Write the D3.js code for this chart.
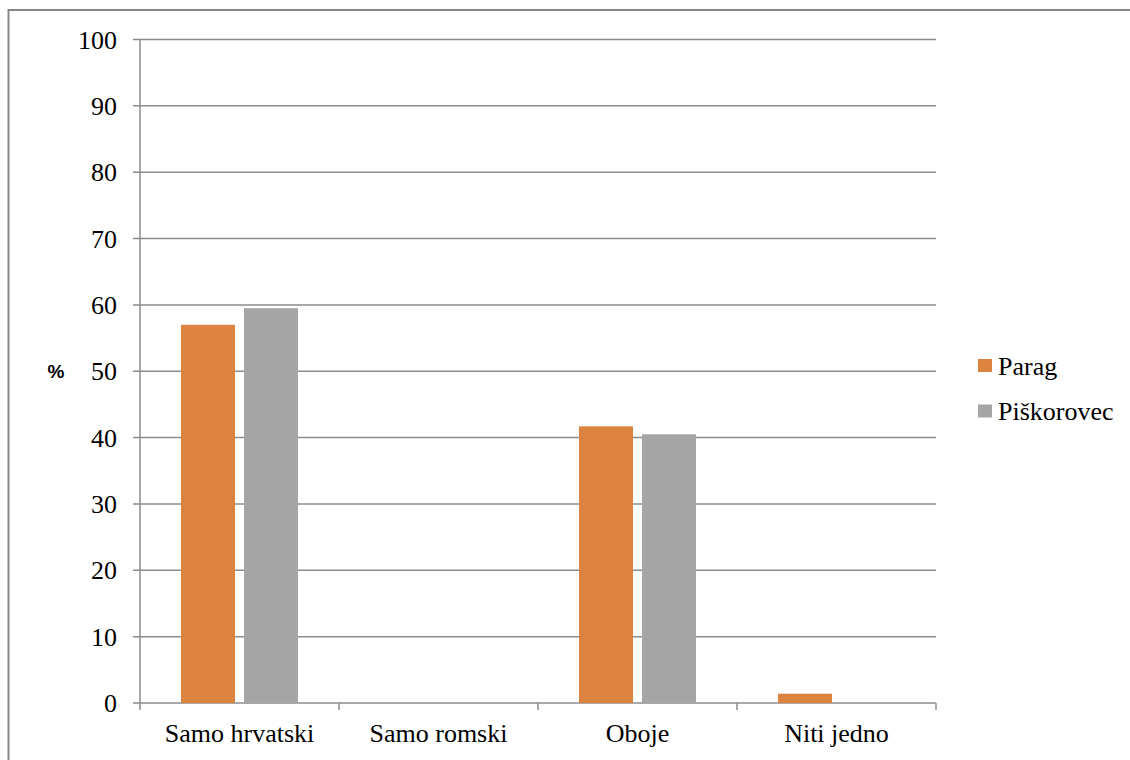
<!DOCTYPE html>
<html><head><meta charset="utf-8">
<script src="https://cdn.jsdelivr.net/npm/d3@7"></script>
<style>body{margin:0;background:#fff}svg{display:block}</style>
</head><body>
<script>
const categories = ["Samo hrvatski", "Samo romski", "Oboje", "Niti jedno"];
const seriesNames = ["Parag", "Piškorovec"];
const parag = [57.0, 0, 41.7, 1.4];
const piskorovec = [59.5, 0, 40.5, 0];
const yTicks = [0, 10, 20, 30, 40, 50, 60, 70, 80, 90, 100];
const colors = ["#DC843F", "#A5A5A5"];

(function () {
const W = 1130, H = 760;
const SERIF = "'Liberation Serif'";
const svg = d3.select("body").append("svg").attr("width", W).attr("height", H);
svg.append("rect").attr("x", 8.5).attr("y", 10).attr("width", 1130).attr("height", 760)
  .attr("fill", "#fff").attr("stroke", "#868686").attr("stroke-width", 2);

const pLeft = 140, pRight = 936, pTop = 39.5, pBottom = 703;
const x = d3.scaleBand().domain(categories).range([pLeft, pRight]).paddingInner(0).paddingOuter(0);
const inner = d3.scaleBand().domain(seriesNames).range([41, x.bandwidth() - 41]).paddingInner(9 / 63).paddingOuter(0);
const y = d3.scaleLinear().domain([0, 100]).range([pBottom, pTop]);

const gridColor = "#8C8C8C";
svg.append("g").selectAll("line").data(yTicks).join("line")
  .attr("x1", pLeft - 7).attr("x2", pRight)
  .attr("y1", d => y(d)).attr("y2", d => y(d))
  .attr("stroke", gridColor).attr("stroke-width", 1.5);
svg.append("line").attr("x1", pLeft).attr("x2", pLeft).attr("y1", pTop).attr("y2", pBottom)
  .attr("stroke", gridColor).attr("stroke-width", 1.5);
const bounds = categories.map(c => x(c)).concat([pRight]);
svg.append("g").selectAll("line").data(bounds).join("line")
  .attr("x1", d => d).attr("x2", d => d).attr("y1", pBottom).attr("y2", pBottom + 7)
  .attr("stroke", gridColor).attr("stroke-width", 1.5);

svg.append("g").selectAll("text").data(yTicks).join("text")
  .style("font-family", SERIF).style("font-size", "26px")
  .attr("x", 117).attr("y", d => y(d)).attr("dy", "0.35em")
  .attr("text-anchor", "end").attr("fill", "#000").text(d => d);

const series = [parag, piskorovec];
series.forEach((vals, si) => {
  svg.append("g").selectAll("rect").data(vals).join("rect")
    .attr("x", (d, i) => x(categories[i]) + inner(seriesNames[si]))
    .attr("width", inner.bandwidth())
    .attr("y", d => y(d))
    .attr("height", d => pBottom - y(d))
    .attr("fill", colors[si]);
});

svg.append("g").selectAll("text").data(categories).join("text")
  .style("font-family", SERIF).style("font-size", "26px")
  .attr("x", d => x(d) + x.bandwidth() / 2).attr("y", 742)
  .attr("text-anchor", "middle").attr("fill", "#000").text(d => d);

svg.append("text").attr("x", 56).attr("y", 378).attr("text-anchor", "middle")
  .style("font-family", "'Liberation Sans'").style("font-weight", "bold")
  .style("font-size", "19px").text("%");

const lg = svg.append("g");
seriesNames.forEach((n, i) => {
  const yy = 365.5 + i * 45.5;
  lg.append("rect").attr("x", 978).attr("y", yy - 6.5).attr("width", 14).attr("height", 13).attr("fill", colors[i]);
  lg.append("text").attr("x", 998).attr("y", yy + 9)
    .style("font-family", SERIF).style("font-size", "26px").text(n);
});
})();
</script>
</body></html>
